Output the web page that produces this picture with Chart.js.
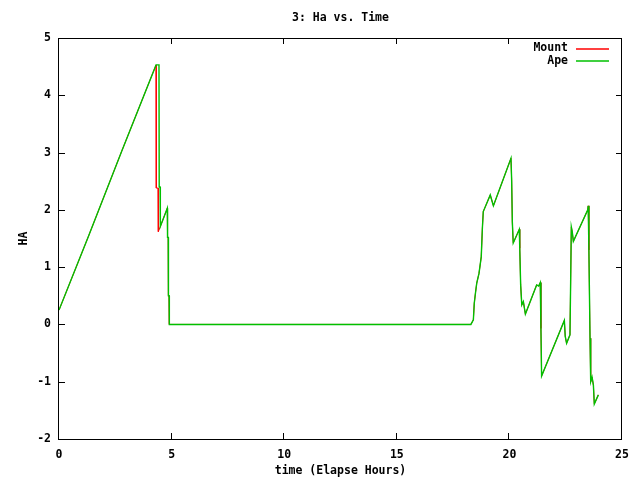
<!DOCTYPE html>
<html>
<head>
<meta charset="utf-8">
<script src="https://cdn.jsdelivr.net/npm/chart.js@4"></script>
<style>
  html, body { margin: 0; padding: 0; background: #fff; }
</style>
</head>
<body>
<canvas id="haChart" width="640" height="480"></canvas>
<script>
const chartTitle = "3: Ha vs. Time";
const xTitle = "time (Elapse Hours)";
const yTitle = "HA";
const xTicks = [0, 5, 10, 15, 20, 25];
const yTicks = [-2, -1, 0, 1, 2, 3, 4, 5];

// Ape (green)
const apeTime = [0, 1.30, 2.78, 4.31, 4.44, 4.45, 4.49, 4.50, 4.81, 4.82, 4.85, 4.86, 4.89, 4.90,
  18.29, 18.40, 18.44, 18.50, 18.55, 18.65, 18.75, 18.80, 18.84, 19.15, 19.29, 20.07, 20.10, 20.13,
  20.17, 20.44, 20.46, 20.50, 20.55, 20.62, 20.71, 21.21, 21.30, 21.37, 21.40, 21.43, 22.44, 22.48,
  22.54, 22.69, 22.72, 22.75, 22.79, 22.84, 23.48, 23.50, 23.53, 23.58, 23.61, 23.67, 23.73, 23.77, 23.95];
const apeHA = [0.25, 1.53, 3.02, 4.53, 4.53, 2.40, 2.40, 1.71, 2.03, 1.52, 1.52, 0.50, 0.50, 0.00,
  0.00, 0.08, 0.37, 0.57, 0.72, 0.89, 1.18, 1.68, 1.97, 2.26, 2.07, 2.90, 2.52, 1.79,
  1.42, 1.66, 1.33, 0.69, 0.34, 0.40, 0.18, 0.69, 0.67, 0.73, -0.07, -0.90, 0.07, -0.21,
  -0.33, -0.18, 0.75, 1.70, 1.62, 1.45, 2.00, 2.07, 1.30, -0.24, -1.00, -0.92, -1.06, -1.39, -1.23];

// Mount (red) - differs only at the first drop
const mountTime = [0, 1.30, 2.78, 4.31, 4.32, 4.40, 4.41, 4.50, 4.81, 4.82, 4.85, 4.86, 4.89, 4.90,
  18.29, 18.40, 18.44, 18.50, 18.55, 18.65, 18.75, 18.80, 18.84, 19.15, 19.29, 20.07, 20.10, 20.13,
  20.17, 20.44, 20.46, 20.50, 20.55, 20.62, 20.71, 21.21, 21.30, 21.37, 21.40, 21.43, 22.44, 22.48,
  22.54, 22.69, 22.72, 22.75, 22.79, 22.84, 23.48, 23.50, 23.53, 23.58, 23.61, 23.67, 23.73, 23.77, 23.95];
const mountHA = [0.25, 1.53, 3.02, 4.53, 2.38, 2.38, 1.62, 1.71, 2.03, 1.52, 1.52, 0.50, 0.50, 0.00,
  0.00, 0.08, 0.37, 0.57, 0.72, 0.89, 1.18, 1.68, 1.97, 2.26, 2.07, 2.90, 2.52, 1.79,
  1.42, 1.66, 1.33, 0.69, 0.34, 0.40, 0.18, 0.69, 0.67, 0.73, -0.07, -0.90, 0.07, -0.21,
  -0.33, -0.18, 0.75, 1.70, 1.62, 1.45, 2.00, 2.07, 1.30, -0.24, -1.00, -0.92, -1.06, -1.39, -1.23];

const MOUNT_COLOR = "#ff0000";
const APE_COLOR = "#00c000";
const FONT = "'DejaVu Sans Mono', monospace";
const font = { family: FONT, size: 11.5, weight: "bold" };

function toPoints(xs, ys) {
  return xs.map((x, i) => ({ x: x, y: ys[i] }));
}

// gnuplot style frame, inward tics, title and legend
const gnuFrame = {
  id: "gnuFrame",
  afterDraw(chart) {
    const ctx = chart.ctx;
    const a = chart.chartArea;
    const xs = chart.scales.x;
    const ys = chart.scales.y;
    ctx.save();
    ctx.strokeStyle = "#000";
    ctx.lineWidth = 1;
    ctx.strokeRect(a.left - 0.5, a.top + 0.5, a.right - a.left, a.bottom - a.top);

    ctx.beginPath();
    xTicks.forEach(v => {
      const px = Math.round(xs.getPixelForValue(v)) - 0.5;
      ctx.moveTo(px, a.bottom); ctx.lineTo(px, a.bottom - 6);
      ctx.moveTo(px, a.top); ctx.lineTo(px, a.top + 6);
    });
    yTicks.forEach(v => {
      const py = Math.round(ys.getPixelForValue(v)) + 0.5;
      ctx.moveTo(a.left, py); ctx.lineTo(a.left + 6, py);
      ctx.moveTo(a.right, py); ctx.lineTo(a.right - 6, py);
    });
    ctx.stroke();

    ctx.fillStyle = "#000";
    ctx.font = "bold 11.5px " + FONT;
    ctx.textAlign = "center";
    ctx.textBaseline = "middle";
    ctx.fillText(chartTitle, (a.left + a.right) / 2, 18);

    // legend: text then line sample
    const legendColors = [MOUNT_COLOR, APE_COLOR];
    chart.data.datasets.forEach((ds, i) => {
      const y = 48.5 + i * 12.5;
      ctx.textAlign = "right";
      ctx.fillStyle = "#000";
      ctx.fillText(ds.label, 568, y);
      ctx.strokeStyle = legendColors[i];
      ctx.lineWidth = 1.4;
      ctx.beginPath();
      ctx.moveTo(576, Math.round(y));
      ctx.lineTo(609, Math.round(y));
      ctx.stroke();
    });
    ctx.restore();
  }
};

new Chart(document.getElementById("haChart"), {
  type: "scatter",
  data: {
    datasets: [
      {
        label: "Mount",
        data: toPoints(mountTime, mountHA),
        showLine: true,
        borderColor: MOUNT_COLOR,
        borderWidth: 1,
        pointRadius: 0,
        tension: 0,
        order: 1
      },
      {
        label: "Ape",
        data: toPoints(apeTime, apeHA),
        showLine: true,
        borderColor: APE_COLOR,
        borderWidth: 1.4,
        pointRadius: 0,
        tension: 0,
        order: 0
      }
    ]
  },
  options: {
    responsive: false,
    animation: false,
    devicePixelRatio: 1,
    events: [],
    layout: { padding: { top: 38, right: 18, left: 0, bottom: 0 } },
    plugins: {
      legend: { display: false },
      title: { display: false },
      tooltip: { enabled: false }
    },
    scales: {
      x: {
        type: "linear",
        min: 0,
        max: 25,
        afterFit: s => { s.height = 41; },
        afterBuildTicks: s => { s.ticks = xTicks.map(v => ({ value: v })); },
        ticks: { font: font, color: "#000", padding: 9, maxRotation: 0 },
        grid: { display: false, drawTicks: false },
        border: { display: false },
        title: { display: true, text: xTitle, font: font, color: "#000", padding: { top: 0, bottom: 2 } }
      },
      y: {
        type: "linear",
        min: -2,
        max: 5,
        afterFit: s => { s.width = 59; },
        afterBuildTicks: s => { s.ticks = yTicks.map(v => ({ value: v })); },
        ticks: { font: font, color: "#000", padding: 8 },
        grid: { display: false, drawTicks: false },
        border: { display: false },
        title: { display: true, text: yTitle, font: font, color: "#000", padding: { top: 17, bottom: 0 } }
      }
    }
  },
  plugins: [gnuFrame]
});
</script>
</body>
</html>
